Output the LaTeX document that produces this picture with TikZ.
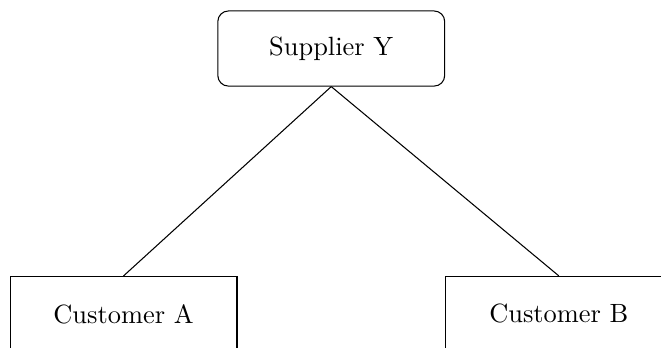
\documentclass[tikz,border=0pt]{standalone}
\usepackage{tikz}
\usetikzlibrary{positioning}
\tikzset{
	supplier/.style={rectangle, rounded corners=4pt, draw=black, minimum width=3.02cm, minimum height=1cm, align=center},
	customer/.style={rectangle, draw=black, minimum width=3.02cm, minimum height=1cm, align=center},
	link/.style    ={-},
}
\begin{document}
\begin{tikzpicture}
	\clip (0,0) rectangle (8.8,-4.62);
	\node[supplier] (sup) at (4.41,-0.646) {Supplier Y};
	\node[customer, below=2.52cm of sup, xshift=-2.765cm] (ca) {Customer A};
	\node[customer, below=2.52cm of sup, xshift=3.03cm] (cb) {Customer B};
	\draw[link] (sup.south) -- (ca.north);
	\draw[link] (sup.south) -- (cb.north);
\end{tikzpicture}
\end{document}
